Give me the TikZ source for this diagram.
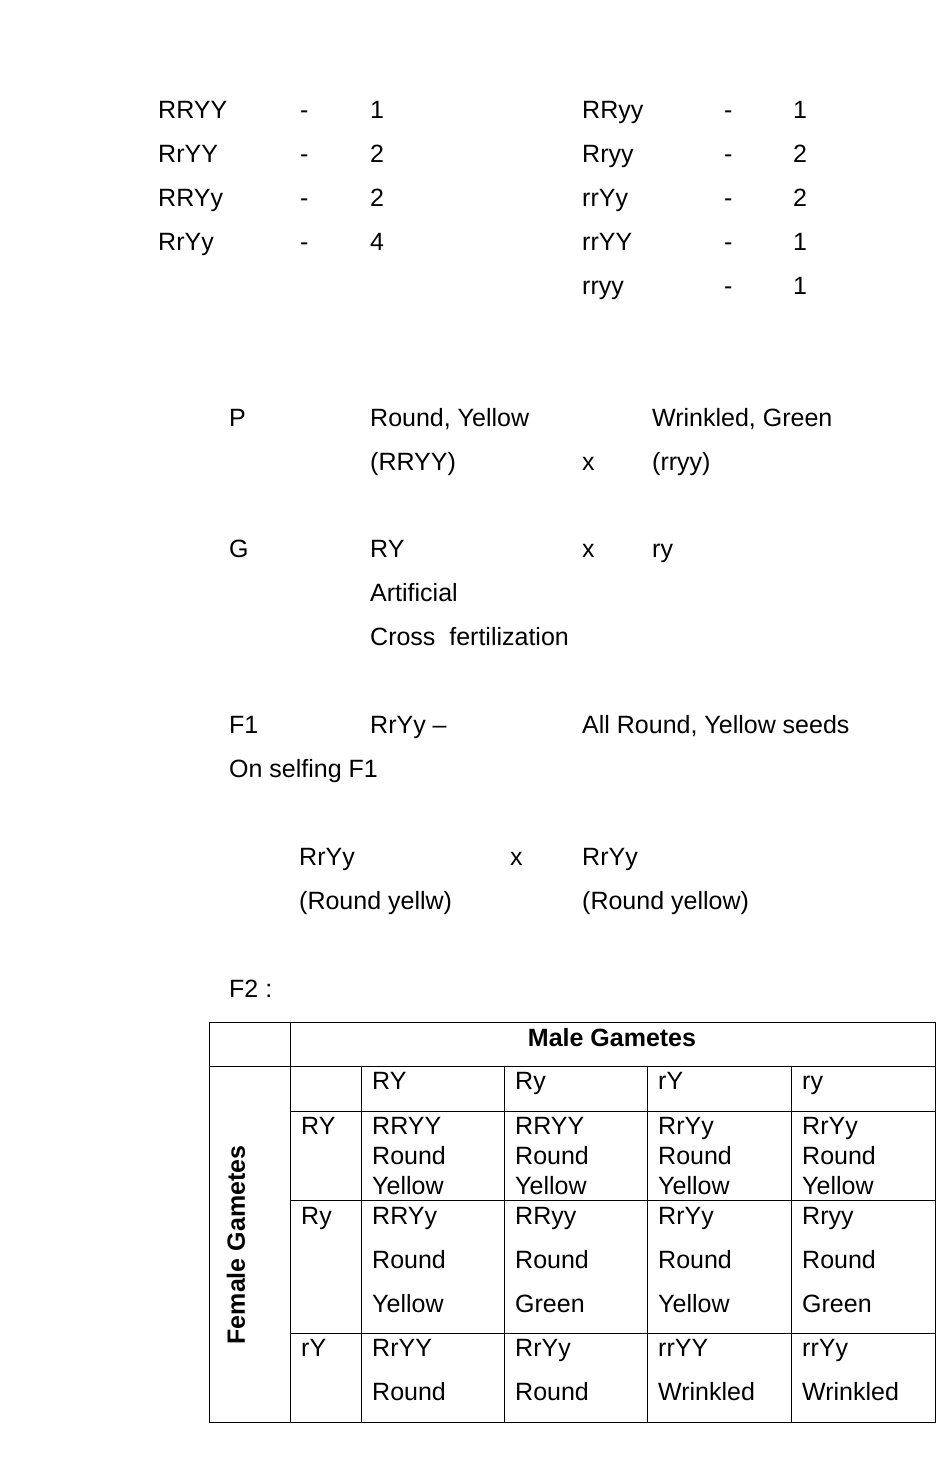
\documentclass[tikz,border=0pt]{standalone}
\usepackage{fontspec}
\setmainfont{Liberation Sans}
\begin{document}
\begin{tikzpicture}[x=1pt,y=-1pt,
  txt/.style={anchor=west,inner sep=0pt,text height=17pt,text depth=5pt,font=\fontsize{25}{27}\selectfont},
  hd/.style={inner sep=0pt,font=\fontsize{25}{27}\selectfont\bfseries},
  grid/.style={line width=0.8pt}]
\useasboundingbox (0,0) rectangle (936,1478);

% ratio list
\node[txt] (l1) at (158,112) {RRYY}; \node[txt] (l1d) at (300,112) {-}; \node[txt] (l1n) at (370,112) {1};
\node[txt] (l2) at (158,156) {RrYY}; \node[txt] (l2d) at (300,156) {-}; \node[txt] (l2n) at (370,156) {2};
\node[txt] (l3) at (158,200) {RRYy}; \node[txt] (l3d) at (300,200) {-}; \node[txt] (l3n) at (370,200) {2};
\node[txt] (l4) at (158,244) {RrYy}; \node[txt] (l4d) at (300,244) {-}; \node[txt] (l4n) at (370,244) {4};
\node[txt] (r1) at (582,112) {RRyy}; \node[txt] (r1d) at (724,112) {-}; \node[txt] (r1n) at (793,112) {1};
\node[txt] (r2) at (582,156) {Rryy}; \node[txt] (r2d) at (724,156) {-}; \node[txt] (r2n) at (793,156) {2};
\node[txt] (r3) at (582,200) {rrYy}; \node[txt] (r3d) at (724,200) {-}; \node[txt] (r3n) at (793,200) {2};
\node[txt] (r4) at (582,244) {rrYY}; \node[txt] (r4d) at (724,244) {-}; \node[txt] (r4n) at (793,244) {1};
\node[txt] (r5) at (582,288) {rryy}; \node[txt] (r5d) at (724,288) {-}; \node[txt] (r5n) at (793,288) {1};

% cross
\node[txt] (P) at (229,420) {P};
\node[txt] (Pa) at (370,420) {Round, Yellow};
\node[txt] (Pb) at (652,420) {Wrinkled, Green};
\node[txt] (Pag) at (370,464) {(RRYY)};
\node[txt] (Px) at (582,464) {x};
\node[txt] (Pbg) at (652,464) {(rryy)};
\node[txt] (G) at (229,551) {G};
\node[txt] (Ga) at (370,551) {RY};
\node[txt] (Gx) at (582,551) {x};
\node[txt] (Gb) at (652,551) {ry};
\node[txt] (art) at (370,595) {Artificial};
\node[txt] (cf) at (370,639) {Cross\ \ fertilization};
\node[txt] (F1) at (229,727) {F1};
\node[txt] (F1g) at (370,727) {RrYy --};
\node[txt] (F1p) at (582,727) {All Round, Yellow seeds};
\node[txt] (self) at (229,771) {On selfing F1};
\node[txt] (Sa) at (299,859) {RrYy};
\node[txt] (Sx) at (510,859) {x};
\node[txt] (Sb) at (582,859) {RrYy};
\node[txt] (Sap) at (299,903) {(Round yellw)};
\node[txt] (Sbp) at (582,903) {(Round yellow)};
\node[txt] (F2) at (229,991) {F2 :};

% table
\draw[grid] (209,1022) rectangle (935,1422);
\draw[grid] (209,1066) -- (935,1066);
\foreach \y in {1111,1200,1333} \draw[grid] (290,\y) -- (935,\y);
\draw[grid] (290,1022) -- (290,1422);
\foreach \x in {361,504,647,791} \draw[grid] (\x,1066) -- (\x,1422);
\node[hd] (male) at (612,1038) {Male Gametes};
\node[hd,rotate=90] (female) at (236,1245) {Female Gametes};

\node[txt] (cRY) at (372,1083) {RY};
\node[txt] (cRy) at (515,1083) {Ry};
\node[txt] (crY) at (658,1083) {rY};
\node[txt] (cry) at (802,1083) {ry};
\node[txt] (wRY) at (301,1128) {RY};
\node[txt] (wRy) at (301,1218) {Ry};
\node[txt] (wrY) at (301,1350) {rY};

\foreach \x/\g [count=\i] in {372/RRYY,515/RRYY,658/RrYy,802/RrYy}
  \node[txt,text height=,text depth=,align=left,font=\fontsize{25}{30}\selectfont] (a\i) at (\x,1156) {\g\\Round\\Yellow};
\foreach \x/\g/\c [count=\i] in {372/RRYy/Yellow,515/RRyy/Green,658/RrYy/Yellow,802/Rryy/Green}
  \node[txt,text height=,text depth=,align=left,font=\fontsize{25}{44}\selectfont] (b\i) at (\x,1260) {\g\\Round\\\c};
\foreach \x/\g/\c [count=\i] in {372/RrYY/Round,515/RrYy/Round,658/rrYY/Wrinkled,802/rrYy/Wrinkled}
  \node[txt,text height=,text depth=,align=left,font=\fontsize{25}{44}\selectfont] (c\i) at (\x,1370) {\g\\\c};
\end{tikzpicture}
\end{document}
